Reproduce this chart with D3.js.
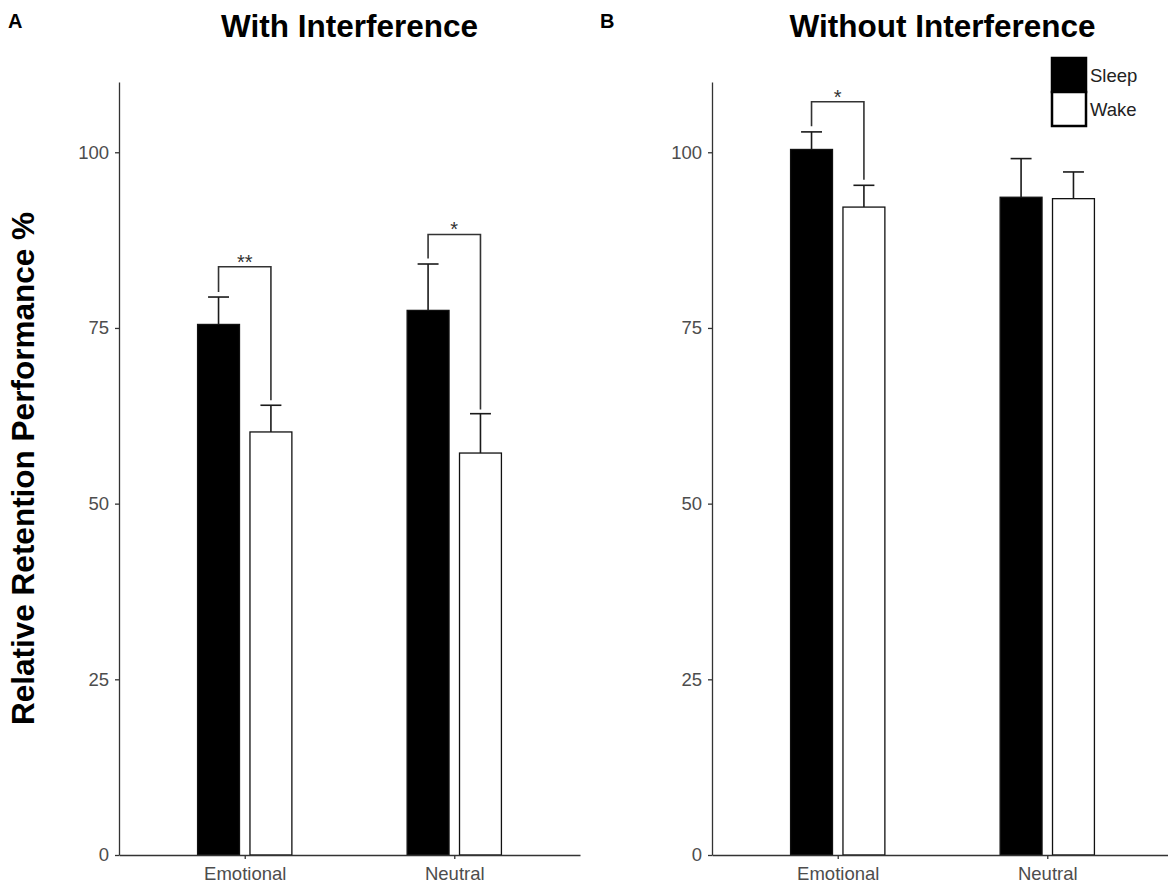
<!DOCTYPE html>
<html>
<head>
<meta charset="utf-8">
<script src="https://cdn.jsdelivr.net/npm/d3@7"></script>
<style>
  body { margin: 0; background: #fff; }
  text { font-family: "Liberation Sans", Arial, sans-serif; }
</style>
</head>
<body>
<div id="chart"></div>
<script>
// Chart data
var categories = ["Emotional", "Neutral"];
var groups = ["Sleep", "Wake"];
var yTicks = [0, 25, 50, 75, 100];

// panel A - with interference
var withSleep = [75.5, 77.5];
var withSleepSE = [3.9, 6.6];
var withWake = [60.2, 57.2];
var withWakeSE = [3.8, 5.6];
// significance brackets: [category, label, top, left leg end, right leg end]
var withSig = [
  ["Emotional", "**", 83.7, 80.1, 64.7],
  ["Neutral", "*", 88.3, 84.9, 63.4]
];

// panel B - without interference
var withoutSleep = [100.4, 93.6];
var withoutSleepSE = [2.5, 5.5];
var withoutWake = [92.2, 93.4];
var withoutWakeSE = [3.1, 3.8];
var withoutSig = [
  ["Emotional", "*", 107.2, 103.7, 96.1]
];

var svgWidth = 1168;
var svgHeight = 885;

var svg = d3.select("#chart")
  .append("svg")
  .attr("width", svgWidth)
  .attr("height", svgHeight);

var plotTop = 82;
var plotBottom = 855;
var plotWidth = 461;

var yScale = d3.scaleLinear()
  .domain([0, 110])
  .range([plotBottom, plotTop]);

var fills = { Sleep: "#000000", Wake: "#ffffff" };

function drawPanel(left, title, letter, letterX, sleep, sleepSE, wake, wakeSE, sig) {
  var g = svg.append("g").attr("transform", "translate(" + left + ",0)");

  var xScale = d3.scalePoint()
    .domain(categories)
    .range([0, plotWidth])
    .padding(0.6);
  var step = xScale.step();
  var dodge = step * 0.125;
  var barW = step * 0.2;
  var capW = step * 0.1;

  var rows = [];
  categories.forEach(function(c, i) {
    rows.push({ cat: c, grp: "Sleep", mean: sleep[i], se: sleepSE[i], off: -dodge });
    rows.push({ cat: c, grp: "Wake", mean: wake[i], se: wakeSE[i], off: dodge });
  });

  // bars
  g.append("g")
    .selectAll("rect")
    .data(rows)
    .enter().append("rect")
    .attr("x", d => xScale(d.cat) + d.off - barW / 2)
    .attr("y", d => yScale(d.mean))
    .attr("width", barW)
    .attr("height", d => yScale(0) - yScale(d.mean))
    .attr("fill", d => fills[d.grp])
    .attr("stroke", "#111")
    .attr("stroke-width", 1.3);

  // upper error bars
  var eb = g.append("g")
    .attr("stroke", "#1a1a1a")
    .attr("stroke-width", 1.6)
    .selectAll("g")
    .data(rows)
    .enter().append("g");
  eb.append("line")
    .attr("x1", d => xScale(d.cat) + d.off)
    .attr("x2", d => xScale(d.cat) + d.off)
    .attr("y1", d => yScale(d.mean))
    .attr("y2", d => yScale(d.mean + d.se));
  eb.append("line")
    .attr("x1", d => xScale(d.cat) + d.off - capW / 2)
    .attr("x2", d => xScale(d.cat) + d.off + capW / 2)
    .attr("y1", d => yScale(d.mean + d.se))
    .attr("y2", d => yScale(d.mean + d.se));

  // significance brackets
  var br = g.append("g").selectAll("g")
    .data(sig)
    .enter().append("g");
  br.append("path")
    .attr("fill", "none")
    .attr("stroke", "#333")
    .attr("stroke-width", 1.6)
    .attr("d", function(d) {
      var x1 = xScale(d[0]) - dodge, x2 = xScale(d[0]) + dodge;
      return "M" + x1 + "," + yScale(d[3]) + "V" + yScale(d[2]) +
        "H" + x2 + "V" + yScale(d[4]);
    });
  br.append("text")
    .attr("x", d => xScale(d[0]))
    .attr("y", d => yScale(d[2]) + 2)
    .attr("text-anchor", "middle")
    .attr("font-size", 20)
    .attr("fill", "#333")
    .text(d => d[1]);

  // axes
  var leftAxis = d3.axisLeft(yScale).tickValues(yTicks).tickSize(4).tickSizeOuter(0).tickPadding(6);
  var bottomAxis = d3.axisBottom(xScale).tickSize(4).tickSizeOuter(0).tickPadding(8);

  var ya = g.append("g").call(leftAxis);
  var xa = g.append("g").attr("transform", "translate(0," + plotBottom + ")").call(bottomAxis);
  [ya, xa].forEach(function(a) {
    a.select(".domain").attr("stroke", "#333").attr("stroke-width", 1.3);
    a.selectAll(".tick line").attr("stroke", "#333").attr("stroke-width", 1.3);
    a.selectAll(".tick text")
      .attr("fill", "#4d4d4d")
      .attr("font-size", 18.5)
      .attr("font-family", "Liberation Sans, Arial, sans-serif");
  });

  // panel title
  g.append("text")
    .attr("x", plotWidth / 2)
    .attr("y", 37)
    .attr("text-anchor", "middle")
    .attr("font-size", 31.5)
    .attr("font-weight", "bold")
    .text(title);

  svg.append("text")
    .attr("x", letterX)
    .attr("y", 28)
    .attr("font-size", 20)
    .attr("font-weight", "bold")
    .text(letter);
}

drawPanel(119, "With Interference", "A", 8, withSleep, withSleepSE, withWake, withWakeSE, withSig);
drawPanel(712, "Without Interference", "B", 600, withoutSleep, withoutSleepSE, withoutWake, withoutWakeSE, withoutSig);

// y axis title
svg.append("text")
  .attr("transform", "translate(34," + (plotTop + plotBottom) / 2 + ") rotate(-90)")
  .attr("text-anchor", "middle")
  .attr("font-size", 31.5)
  .attr("font-weight", "bold")
  .text("Relative Retention Performance %");

// legend
var legend = svg.append("g").attr("transform", "translate(1052,58)");
groups.forEach(function(grp, i) {
  legend.append("rect")
    .attr("x", 0)
    .attr("y", i * 34)
    .attr("width", 34)
    .attr("height", 34)
    .attr("fill", fills[grp])
    .attr("stroke", "#000")
    .attr("stroke-width", 2.5);
  legend.append("text")
    .attr("x", 38)
    .attr("y", i * 34 + 24)
    .attr("font-size", 18.5)
    .attr("fill", "#222")
    .text(grp);
});
</script>
</body>
</html>
